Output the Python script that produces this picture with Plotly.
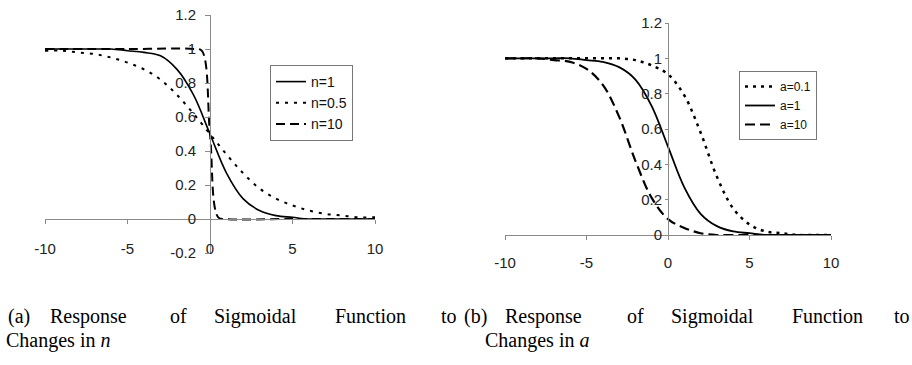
import plotly.graph_objects as go

# ---------------- data ----------------
x_int = [-10, -9, -8, -7, -6, -5, -4, -3, -2, -1, 0, 1, 2, 3, 4, 5, 6, 7, 8, 9, 10]

# (a) changes in n
n1_y = [1.00, 1.00, 1.00, 1.00, 1.00, 0.99, 0.98, 0.96, 0.88, 0.73, 0.50,
        0.27, 0.12, 0.05, 0.02, 0.01, 0.00, 0.00, 0.00, 0.00, 0.00]
n05_y = [0.99, 0.99, 0.98, 0.97, 0.95, 0.92, 0.88, 0.82, 0.73, 0.62, 0.50,
         0.38, 0.27, 0.18, 0.12, 0.08, 0.05, 0.03, 0.02, 0.01, 0.01]
x_n10 = [-10, -5, -1, -0.5, 0, 0.5, 1, 5, 10]
n10_y = [1.00, 1.00, 1.00, 0.99, 0.50, 0.01, 0.00, 0.00, 0.00]

# (b) changes in a
a01_y = [1.00, 1.00, 1.00, 1.00, 1.00, 1.00, 1.00, 1.00, 0.99, 0.96, 0.91,
         0.79, 0.58, 0.33, 0.15, 0.06, 0.02, 0.01, 0.00, 0.00, 0.00]
a1_y = [1.00, 1.00, 1.00, 1.00, 1.00, 0.99, 0.98, 0.95, 0.88, 0.73, 0.50,
        0.27, 0.12, 0.05, 0.02, 0.01, 0.00, 0.00, 0.00, 0.00, 0.00]
a10_y = [1.00, 1.00, 1.00, 0.99, 0.98, 0.94, 0.85, 0.67, 0.42, 0.21, 0.09,
         0.04, 0.01, 0.00, 0.00, 0.00, 0.00, 0.00, 0.00, 0.00, 0.00]

x_ticks = [-10, -5, 0, 5, 10]
x_tick_text = ["-10", "-5", "0", "5", "10"]
y_ticks_a = [-0.2, 0, 0.2, 0.4, 0.6, 0.8, 1, 1.2]
y_tick_text_a = ["-0.2", "0", "0.2", "0.4", "0.6", "0.8", "1", "1.2"]
y_ticks_b = [0, 0.2, 0.4, 0.6, 0.8, 1, 1.2]
y_tick_text_b = ["0", "0.2", "0.4", "0.6", "0.8", "1", "1.2"]

caption_a1 = ["(a)", "Response", "of", "Sigmoidal", "Function", "to"]
caption_b1 = ["(b)", "Response", "of", "Sigmoidal", "Function", "to"]
caption_a2 = "Changes in <i>n</i>"
caption_b2 = "Changes in <i>a</i>"

# ---------------- layout helpers ----------------
W, H = 912, 365
def px(x):
    return x / W
def py(y):
    return 1 - y / H

AXIS_COL = "#8a8a8a"
TICK_FONT = dict(family="Liberation Sans, Arial, sans-serif", size=15, color="#222")

fig = go.Figure()

def add(x, y, name, dash, width, xa, ya, legend):
    fig.add_trace(go.Scatter(
        x=x, y=y, name=name, mode="lines",
        line=dict(color="black", width=width, dash=dash, shape="spline", smoothing=1.0),
        xaxis=xa, yaxis=ya, legend=legend,
    ))

add(x_int, n1_y, "n=1", "solid", 1.6, "x", "y", "legend")
add(x_int, n05_y, "n=0.5", "3px,6px", 2, "x", "y", "legend")
add(x_n10, n10_y, "n=10", "9px,5px", 2, "x", "y", "legend")

add(x_int, a01_y, "a=0.1", "3px,5px", 2.5, "x2", "y2", "legend2")
add(x_int, a1_y, "a=1", "solid", 1.8, "x2", "y2", "legend2")
add(x_int, a10_y, "a=10", "10px,5px", 2.2, "x2", "y2", "legend2")

common_x = dict(range=[-10, 10], tickvals=x_ticks, ticktext=x_tick_text, showgrid=False,
                zeroline=False, showline=True, linecolor=AXIS_COL, linewidth=1,
                ticks="outside", ticklen=4, tickcolor=AXIS_COL, tickfont=TICK_FONT,
                fixedrange=True, automargin=False)
common_y = dict(showgrid=False, zeroline=False, showline=True, linecolor=AXIS_COL,
                linewidth=1, ticks="outside", tickcolor=AXIS_COL, tickfont=TICK_FONT,
                fixedrange=True, automargin=False)

fig.update_layout(
    width=W, height=H,
    margin=dict(l=0, r=0, t=0, b=0, pad=0, autoexpand=False),
    paper_bgcolor="white", plot_bgcolor="white",
    showlegend=True,
    xaxis=dict(common_x, domain=[px(45), px(375)], anchor="free", position=py(219),
               ticklabelstandoff=12),
    yaxis=dict(common_y, domain=[py(253), py(15)], range=[-0.2, 1.2], tickvals=y_ticks_a,
               ticktext=y_tick_text_a, anchor="free", position=px(210), ticklen=5,
               ticklabelstandoff=6),
    xaxis2=dict(common_x, domain=[px(505), px(831)], anchor="free", position=py(235),
                ticklabelstandoff=10),
    yaxis2=dict(common_y, domain=[py(235), py(23)], range=[0, 1.2], tickvals=y_ticks_b,
                ticktext=y_tick_text_b, anchor="free", position=px(668), ticklen=3,
                ticklabelstandoff=0),
    legend=dict(x=px(270), y=py(65), xanchor="left", yanchor="top",
                bgcolor="rgba(255,255,255,0)", bordercolor="#777", borderwidth=1,
                font=dict(family="Liberation Sans, Arial, sans-serif", size=14, color="#111")),
    legend2=dict(x=px(739), y=py(71), xanchor="left", yanchor="top",
                 bgcolor="rgba(255,255,255,0)", bordercolor="#777", borderwidth=1,
                 font=dict(family="Liberation Sans, Arial, sans-serif", size=12, color="#111")),
)

CAP_FONT = dict(family="Liberation Serif, Times New Roman, serif", size=20, color="black")
# word centres measured on the justified caption lines
left_centres = [19, 88, 178, 255, 370, 449]
right_centres = [475, 543, 635, 712, 827, 902]
for word, xc in zip(caption_a1, left_centres):
    fig.add_annotation(text=word, x=px(xc), y=py(316), xref="paper", yref="paper",
                       xanchor="center", yanchor="middle", showarrow=False, font=CAP_FONT,
                       borderpad=0)
for word, xc in zip(caption_b1, right_centres):
    fig.add_annotation(text=word, x=px(xc), y=py(316), xref="paper", yref="paper",
                       xanchor="center", yanchor="middle", showarrow=False, font=CAP_FONT,
                       borderpad=0)
fig.add_annotation(text=caption_a2, x=px(5), y=py(340), xref="paper", yref="paper",
                   xanchor="left", yanchor="middle", showarrow=False, font=CAP_FONT,
                   borderpad=0)
fig.add_annotation(text=caption_b2, x=px(484), y=py(340), xref="paper", yref="paper",
                   xanchor="left", yanchor="middle", showarrow=False, font=CAP_FONT,
                   borderpad=0)

fig.write_html("out.html")
